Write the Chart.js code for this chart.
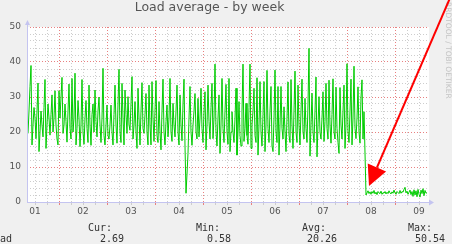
<!DOCTYPE html>
<html>
<head>
<meta charset="utf-8">
<script src="https://cdn.jsdelivr.net/npm/chart.js@4.4.1/dist/chart.umd.min.js"></script>
<style>
  html, body { margin: 0; padding: 0; background: #f0f0f0; }
  #wrap { width: 452px; height: 244px; overflow: hidden; }
</style>
</head>
<body>
<div id="wrap"><canvas id="chart" width="452" height="244"></canvas></div>
<script>
// x axis: hours since midnight of day 01, one sample every 30 min
const dayLabels = ['01', '02', '03', '04', '05', '06', '07', '08', '09'];
const firstHour = 8.5;
const stepHours = 0.5;

// load average (one value per pixel)
const loadValues = [
  19.6, 26, 33, 39, 16.3, 22, 27, 24, 18.1, 26,
  34, 14.4, 20, 26, 22, 18.6, 27, 35, 15.3, 22,
  28, 24, 19.1, 25, 30.6, 20, 24, 31.8, 22, 18,
  16.3, 31.8, 24, 30, 35.6, 19.6, 22, 28, 23, 17.1,
  26, 33.7, 21, 18, 35.3, 20, 24, 36.8, 16.3, 21,
  29, 24, 15.8, 22, 35, 20, 16.5, 24, 29, 21,
  17, 33.4, 22, 16.2, 25, 28, 20, 32, 23, 18.6,
  26, 30, 22, 17, 24, 38.2, 19, 16.3, 22, 27.7,
  19,
  18, 22, 27.7, 20, 16.3, 25, 33.4, 22, 16.8, 28,
  37.9, 20, 17, 33.9, 24, 16.3, 32, 25, 19.6, 30.1,
  22, 20.5, 28, 35.8, 18, 22, 28.7, 20, 15.3, 32.5,
  24, 16.3, 26, 34.1, 21, 19.6, 25, 31, 20, 16.3,
  33.4, 22, 16.3, 34.4, 24, 17.3, 26, 34.7, 19, 17,
  28.7, 20, 14.9, 26, 35.1, 20, 16.3, 23, 27.7, 18.6,
  24, 35.3, 20, 17.3, 28.2, 22, 18.6, 26, 33.4, 20,
  16.3, 30.6, 22, 17.5, 28, 35.1, 16, 2.5, 8, 13.9,
  24, 33, 20,
  16.2, 22, 26, 31, 20, 18, 29.6, 18.6, 24, 32.5,
  21, 17, 26, 31.5, 14.9, 22, 33.4, 23, 18, 27,
  33.9, 18.1, 24, 39.4, 20, 16, 24, 30.6, 13.9, 22,
  35.3, 21, 17, 26, 33.6, 20, 16.5, 35.3, 14.4, 20,
  25.8, 20, 17, 24, 32.5, 13.4, 20, 28.7, 19, 16,
  26, 39.4, 17.3, 21, 28.2, 19, 16.5, 27, 39.4, 15.3,
  22, 26, 32.5, 19, 17, 35.5, 13.4, 22, 34.4, 20,
  16, 25, 34.4, 14.4, 22, 37.6, 21, 17, 26, 33,
  16, 14.4, 24,
  37.7, 20, 17, 33, 13.4, 22, 33, 21, 18, 27.2,
  20, 14.4, 24, 34.3, 19, 17, 35, 22, 15.3, 26,
  37.4, 20, 17, 33.4, 22, 16.3, 26, 35.1, 20, 18,
  29.6, 21, 17, 28, 43.9, 13.1, 22, 31.1, 20, 17,
  26, 35.7, 12.9, 22, 30.1, 20, 18, 24, 31.5, 17.3,
  23, 33.9, 21, 18, 34.8, 22, 16.8, 25, 35.2, 20,
  18, 32.8, 21, 17, 13.9, 32.7, 22, 18, 26, 33.4,
  15.3, 22, 39.5, 20, 17, 26, 35.1, 16.3, 24, 38.8,
  21, 18.1, 24, 32.9,
  20, 16.8, 30, 34.9, 18, 25.8, 14,
  2.0, 2.6, 3.2, 2.4, 2.9, 2.2, 3.0, 2.5, 3.3, 2.3,
  2.8, 2.1, 3.0, 2.6, 2.4, 3.1, 2.2, 2.7, 2.5, 3.0,
  2.3, 2.8, 2.4, 3.2, 2.6, 2.3, 2.9, 2.5, 3.4, 2.6,
  2.2, 3.0, 2.7, 2.4, 3.3, 2.5, 3.0, 2.8, 3.6, 4.2,
  2.6, 3.1, 2.2, 2.8, 3.4, 2.1, 3.0, 1.6, 3.5, 2.0,
  3.2, 1.5, 3.6, 2.2, 1.4, 3.4, 2.4, 3.8, 1.8, 3.3,
  2.5, 2.69
];

const seriesName = 'load';
const statNames = ['Cur:', 'Min:', 'Avg:', 'Max:'];
const statValues = ['2.69', '0.58', '20.26', '50.54'];
const titleText = 'Load average - by week';
const watermarkText = 'RRDTOOL / TOBI OETIKER';

const minorGrid = '#cdcdcd';
const majorGrid = '#e88080';
const axisColor = '#c4c4f0';
const textColor = '#555555';

// grid every 6 hours, red one at midnight
const gridHours = [];
for (let h = 12; h < 209; h += 6) gridHours.push(h);

const points = loadValues.map((v, i) => ({ x: firstHour + i * stepHours, y: v }));

const rrdDecor = {
  id: 'rrdDecor',
  beforeDraw(chart) {
    const { ctx, chartArea: a } = chart;
    ctx.save();
    ctx.fillStyle = '#f0f0f0';
    ctx.fillRect(0, 0, chart.width, chart.height);
    ctx.fillStyle = '#ffffff';
    ctx.fillRect(a.left, a.top, a.right - a.left, a.bottom - a.top);
    ctx.restore();
  },
  afterDraw(chart) {
    const { ctx, chartArea: a, scales } = chart;
    ctx.save();

    // axes with little arrow heads
    ctx.strokeStyle = axisColor;
    ctx.fillStyle = axisColor;
    ctx.lineWidth = 1;
    ctx.beginPath();
    ctx.moveTo(a.left + 0.5, a.bottom);
    ctx.lineTo(a.left + 0.5, a.top - 4);
    ctx.moveTo(a.left, a.bottom + 0.5);
    ctx.lineTo(a.right + 2, a.bottom + 0.5);
    ctx.stroke();
    ctx.beginPath();
    ctx.moveTo(a.left - 2, a.top - 2);
    ctx.lineTo(a.left + 3, a.top - 2);
    ctx.lineTo(a.left + 0.5, a.top - 7);
    ctx.closePath();
    ctx.fill();
    ctx.beginPath();
    ctx.moveTo(a.right, a.bottom - 2.5);
    ctx.lineTo(a.right, a.bottom + 3.5);
    ctx.lineTo(a.right + 5, a.bottom + 0.5);
    ctx.closePath();
    ctx.fill();

    // title
    ctx.fillStyle = textColor;
    ctx.font = '12.5px "DejaVu Sans"';
    ctx.textAlign = 'center';
    ctx.textBaseline = 'middle';
    ctx.fillText(titleText, 209.5, 8);

    // legend row
    ctx.font = '10px "DejaVu Sans Mono"';
    ctx.textAlign = 'left';
    ctx.fillStyle = '#333333';
    ctx.fillText(seriesName, -12, 239);
    const nameX = [88, 196, 302, 408];
    const valueX = [100, 207, 307, 415];
    statNames.forEach((n, i) => ctx.fillText(n, nameX[i], 228));
    statValues.forEach((v, i) => ctx.fillText(v, valueX[i], 239));

    // vertical watermark
    ctx.save();
    ctx.translate(448, 2);
    ctx.rotate(Math.PI / 2);
    ctx.font = '7.5px "DejaVu Sans"';
    ctx.fillStyle = '#c4c4c4';
    ctx.textBaseline = 'middle';
    ctx.fillText(watermarkText, 0, 0);
    ctx.restore();

    // red arrow pointing at the drop
    const tx = scales.x.getPixelForValue(179);
    const ty = scales.y.getPixelForValue(4.6);
    const sx = 450, sy = -2;
    const len = Math.hypot(sx - tx, sy - ty);
    const ux = (sx - tx) / len, uy = (sy - ty) / len;
    const bx = tx + ux * 20, by = ty + uy * 20;
    ctx.strokeStyle = '#ff0000';
    ctx.fillStyle = '#ff0000';
    ctx.lineWidth = 2;
    ctx.beginPath();
    ctx.moveTo(sx, sy);
    ctx.lineTo(bx, by);
    ctx.stroke();
    ctx.beginPath();
    ctx.moveTo(tx, ty);
    ctx.lineTo(bx - uy * 10, by + ux * 10);
    ctx.lineTo(bx + uy * 10, by - ux * 10);
    ctx.closePath();
    ctx.fill();

    ctx.restore();
  }
};

new Chart(document.getElementById('chart'), {
  type: 'line',
  data: {
    datasets: [{
      label: seriesName,
      data: points,
      borderColor: '#00cc00',
      borderWidth: 1,
      pointRadius: 0,
      tension: 0,
      fill: false
    }]
  },
  options: {
    responsive: false,
    animation: false,
    devicePixelRatio: 1,
    layout: { padding: { top: 27, right: 23, left: 0, bottom: 0 } },
    plugins: { legend: { display: false }, tooltip: { enabled: false }, title: { display: false } },
    scales: {
      x: {
        type: 'linear',
        min: 8,
        max: 209,
        afterBuildTicks: (s) => { s.ticks = gridHours.map((v) => ({ value: v })); },
        afterFit: (s) => { s.height = 42; },
        grid: {
          color: (c) => (c.tick && c.tick.value % 24 === 0 ? majorGrid : minorGrid),
          tickColor: (c) => (c.tick && c.tick.value % 24 === 0 ? majorGrid : minorGrid),
          drawTicks: true,
          tickLength: 3
        },
        border: { display: false, dash: [1, 2] },
        ticks: {
          autoSkip: false,
          maxRotation: 0,
          padding: 1,
          color: textColor,
          font: { family: 'DejaVu Sans', size: 9 },
          callback: (v) => ((v - 12) % 24 === 0 ? dayLabels[(v - 12) / 24] : '')
        }
      },
      y: {
        min: 0,
        max: 50,
        afterFit: (s) => { s.width = 27; },
        grid: {
          color: (c) => (c.tick && c.tick.value % 10 === 0 ? majorGrid : minorGrid),
          drawTicks: false
        },
        border: { display: false, dash: [1, 2] },
        ticks: {
          stepSize: 2,
          autoSkip: false,
          padding: 6,
          color: textColor,
          font: { family: 'DejaVu Sans', size: 9 },
          callback: (v) => (v % 10 === 0 ? v : '')
        }
      }
    }
  },
  plugins: [rrdDecor]
});
</script>
</body>
</html>
